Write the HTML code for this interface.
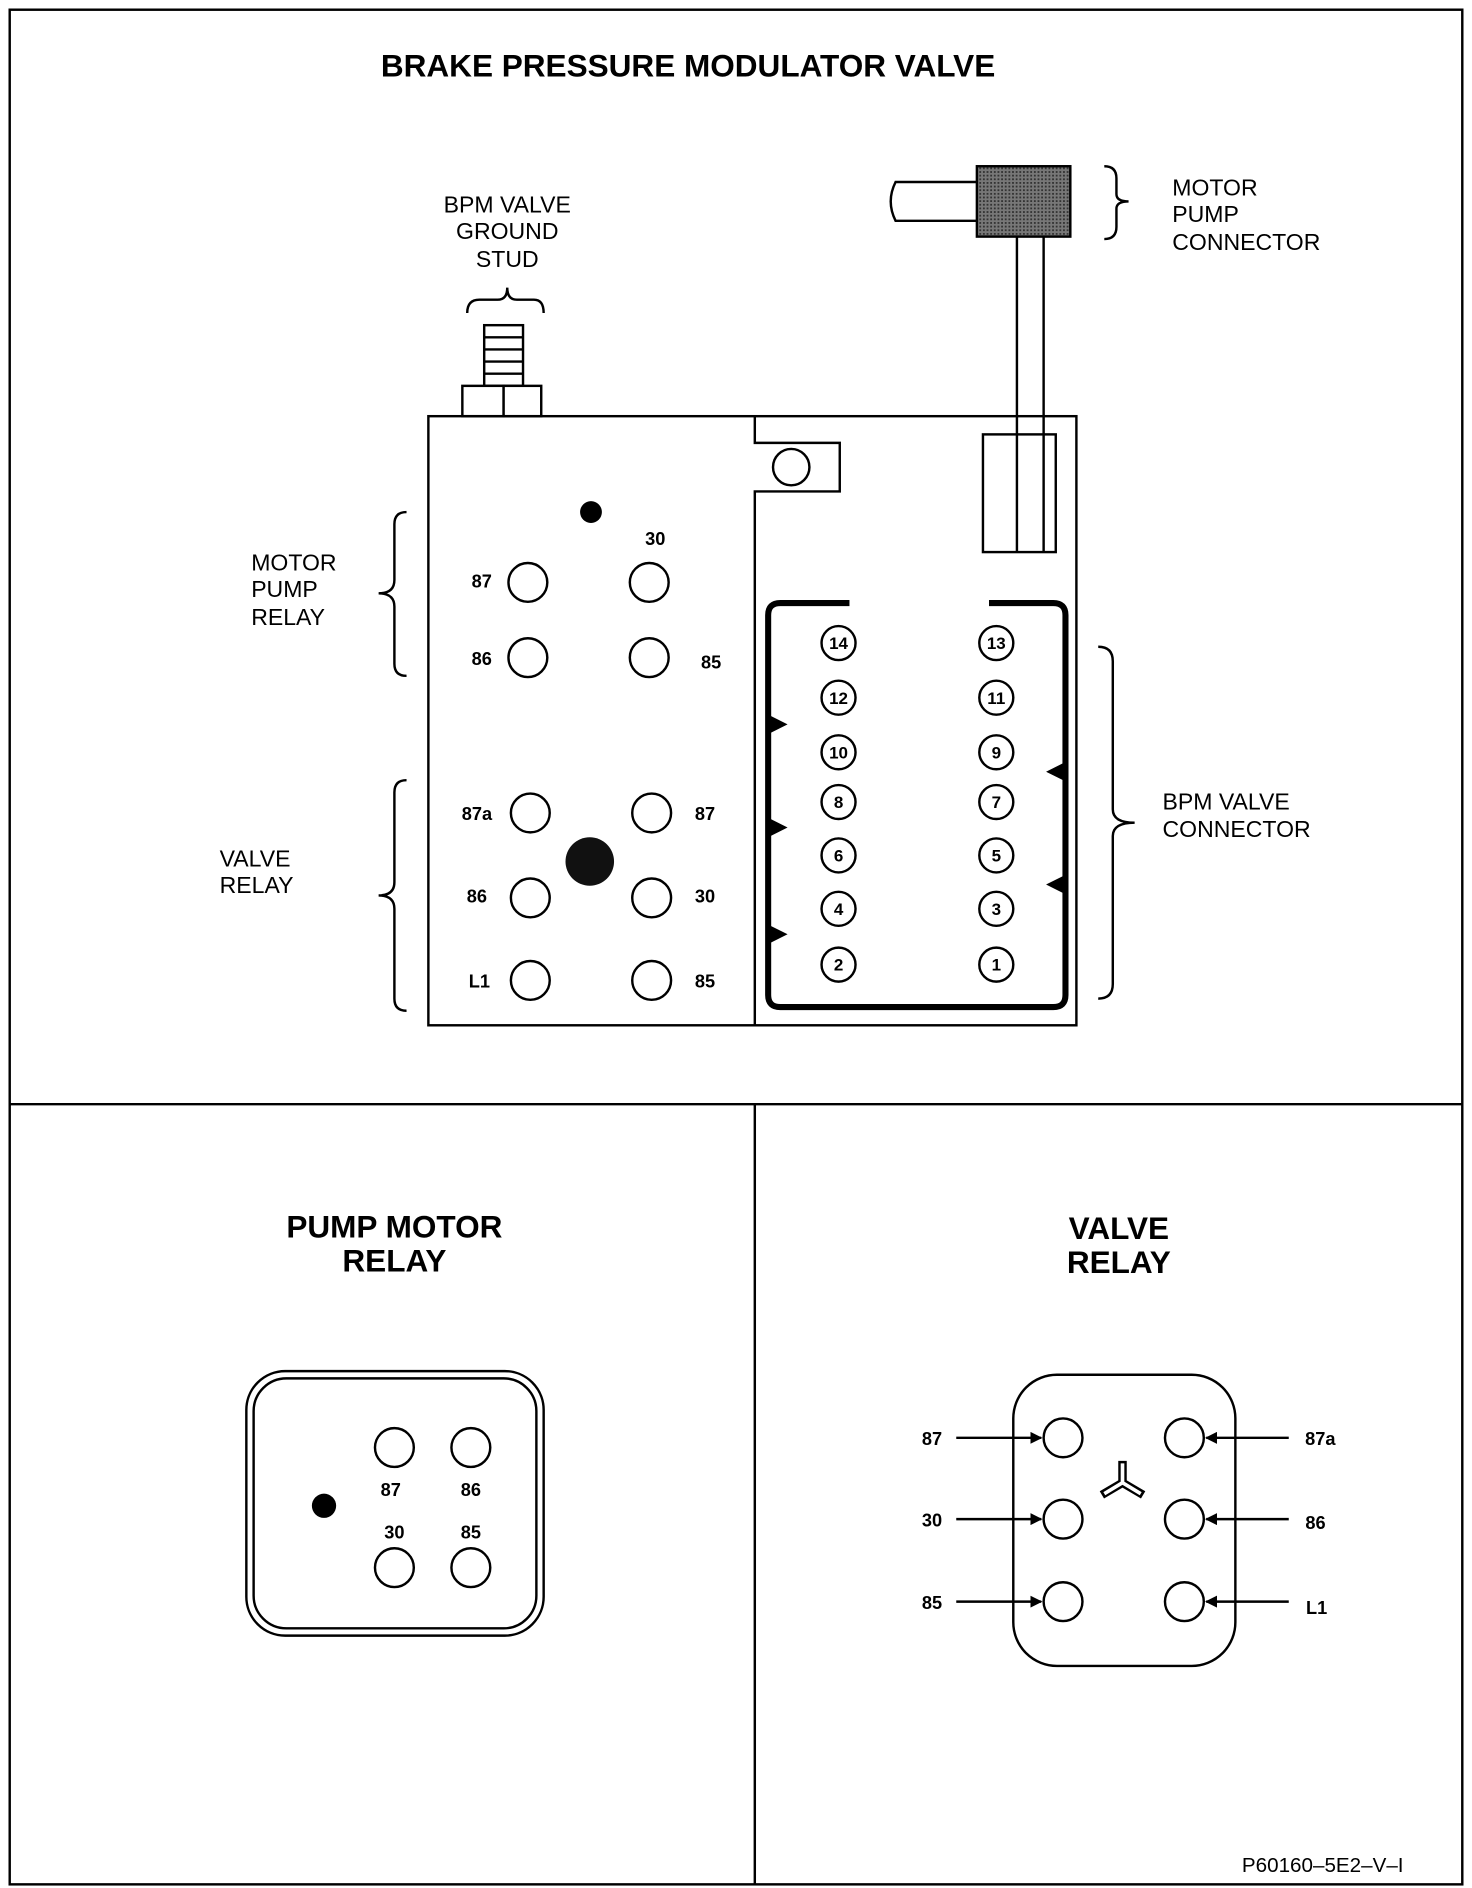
<!DOCTYPE html>
<html><head><meta charset="utf-8"><style>
html,body{margin:0;padding:0;background:#fff}
svg{display:block}
text{font-family:"Liberation Sans",Arial,sans-serif;fill:#000}
.t{font-weight:bold;font-size:26px}
.l{font-size:19px}
.s{font-size:15px;font-weight:bold}
.n{font-size:14px;font-weight:bold}
</style></head><body>
<svg width="1472" height="1888" viewBox="0 0 1213 1556" preserveAspectRatio="none" xmlns="http://www.w3.org/2000/svg">
<defs>
<pattern id="hat" width="3" height="3" patternUnits="userSpaceOnUse"><rect width="3" height="3" fill="#777"/><rect width="1.5" height="1.5" fill="#333"/></pattern>
<marker id="ar" markerWidth="10" markerHeight="10" refX="9" refY="5" orient="auto" markerUnits="userSpaceOnUse"><path d="M0,0 L10,5 L0,10z" fill="#000"/></marker>
</defs>
<g fill="none" stroke="#000" stroke-width="2">
<rect x="8" y="8" width="1197" height="1545"/>
<line x1="8" y1="910" x2="1205" y2="910"/>
<line x1="622" y1="910" x2="622" y2="1553"/>
</g>
<text class="t" x="567" y="63" text-anchor="middle">BRAKE PRESSURE MODULATOR VALVE</text>

<!-- stud -->
<text class="l" x="418" y="175" text-anchor="middle">BPM VALVE</text>
<text class="l" x="418" y="197" text-anchor="middle">GROUND</text>
<text class="l" x="418" y="220" text-anchor="middle">STUD</text>
<path d="M385,258 Q385,247 395,247 L410,247 Q418,247 418,237 Q418,247 426,247 L440,247 Q448,247 448,258" fill="none" stroke="#000" stroke-width="2"/>
<g fill="#fff" stroke="#000" stroke-width="2">
<rect x="399" y="268" width="32" height="50"/>
<rect x="381" y="318" width="34" height="25"/><rect x="415" y="318" width="31" height="25"/>
</g>
<g stroke="#000" stroke-width="2"><line x1="399" y1="278" x2="431" y2="278"/><line x1="399" y1="288" x2="431" y2="288"/><line x1="399" y1="298" x2="431" y2="298"/><line x1="399" y1="308" x2="431" y2="308"/></g>

<!-- motor pump connector -->
<path d="M805,150 L738,150 Q730,166 738,182 L805,182" fill="#fff" stroke="#000" stroke-width="2"/>
<rect x="805" y="137" width="77" height="58" fill="url(#hat)" stroke="#000" stroke-width="2"/>
<path d="M910,137 Q920,137 920,147 L920,160 Q920,166 930,166 Q920,166 920,172 L920,187 Q920,197 910,197" fill="none" stroke="#000" stroke-width="2"/>
<text class="l" x="966" y="161">MOTOR</text>
<text class="l" x="966" y="183">PUMP</text>
<text class="l" x="966" y="206">CONNECTOR</text>

<!-- body -->
<rect x="353" y="343" width="534" height="502" fill="none" stroke="#000" stroke-width="2"/>
<path d="M622,343 L622,365 L692,365 L692,405 L622,405 L622,845" fill="none" stroke="#000" stroke-width="2"/>
<circle cx="652" cy="385" r="15" fill="none" stroke="#000" stroke-width="2"/>
<rect x="810" y="358" width="60" height="97" fill="#fff" stroke="#000" stroke-width="2"/>
<g stroke="#000" stroke-width="2"><line x1="838" y1="195" x2="838" y2="455"/><line x1="860" y1="195" x2="860" y2="455"/></g>

<!-- motor pump relay (top) -->
<circle cx="487" cy="422" r="9" fill="#000"/>
<g fill="none" stroke="#000" stroke-width="2">
<circle cx="435" cy="480" r="16"/><circle cx="535" cy="480" r="16"/>
<circle cx="435" cy="542" r="16"/><circle cx="535" cy="542" r="16"/>
<circle cx="437" cy="670" r="16"/><circle cx="537" cy="670" r="16"/>
<circle cx="437" cy="740" r="16"/><circle cx="537" cy="740" r="16"/>
<circle cx="437" cy="808" r="16"/><circle cx="537" cy="808" r="16"/>
</g>
<circle cx="486" cy="710" r="20" fill="#111"/>
<text class="s" x="397" y="484" text-anchor="middle">87</text>
<text class="s" x="540" y="449" text-anchor="middle">30</text>
<text class="s" x="397" y="548" text-anchor="middle">86</text>
<text class="s" x="586" y="551" text-anchor="middle">85</text>
<text class="s" x="393" y="676" text-anchor="middle">87a</text>
<text class="s" x="581" y="676" text-anchor="middle">87</text>
<text class="s" x="393" y="744" text-anchor="middle">86</text>
<text class="s" x="581" y="744" text-anchor="middle">30</text>
<text class="s" x="395" y="814" text-anchor="middle">L1</text>
<text class="s" x="581" y="814" text-anchor="middle">85</text>
<path d="M335,422 Q325,422 325,432 L325,478 Q325,489 312,489 Q325,489 325,500 L325,547 Q325,557 335,557" fill="none" stroke="#000" stroke-width="2"/>
<path d="M335,643 Q325,643 325,653 L325,727 Q325,738 312,738 Q325,738 325,749 L325,823 Q325,833 335,833" fill="none" stroke="#000" stroke-width="2"/>
<text class="l" x="207" y="470">MOTOR</text>
<text class="l" x="207" y="492">PUMP</text>
<text class="l" x="207" y="515">RELAY</text>
<text class="l" x="181" y="714">VALVE</text>
<text class="l" x="181" y="736">RELAY</text>

<!-- BPM connector -->
<path d="M700,497 L643,497 Q633,497 633,507 L633,820 Q633,830 643,830 L868,830 Q878,830 878,820 L878,507 Q878,497 868,497 L815,497" fill="none" stroke="#000" stroke-width="5"/>
<g fill="#000">
<path d="M633,589 L649,597 L633,605z"/><path d="M633,674 L649,682 L633,690z"/><path d="M633,762 L649,770 L633,778z"/>
<path d="M878,628 L862,636 L878,644z"/><path d="M878,721 L862,729 L878,737z"/>
</g>
<g fill="none" stroke="#000" stroke-width="2">
<circle cx="691" cy="530" r="14"/><circle cx="691" cy="575" r="14"/><circle cx="691" cy="620" r="14"/><circle cx="691" cy="661" r="14"/><circle cx="691" cy="705" r="14"/><circle cx="691" cy="749" r="14"/><circle cx="691" cy="795" r="14"/>
<circle cx="821" cy="530" r="14"/><circle cx="821" cy="575" r="14"/><circle cx="821" cy="620" r="14"/><circle cx="821" cy="661" r="14"/><circle cx="821" cy="705" r="14"/><circle cx="821" cy="749" r="14"/><circle cx="821" cy="795" r="14"/>
</g>
<g class="n" text-anchor="middle">
<text class="n" x="691" y="535" text-anchor="middle">14</text><text class="n" x="691" y="580" text-anchor="middle">12</text><text class="n" x="691" y="625" text-anchor="middle">10</text><text class="n" x="691" y="666" text-anchor="middle">8</text><text class="n" x="691" y="710" text-anchor="middle">6</text><text class="n" x="691" y="754" text-anchor="middle">4</text><text class="n" x="691" y="800" text-anchor="middle">2</text>
<text class="n" x="821" y="535" text-anchor="middle">13</text><text class="n" x="821" y="580" text-anchor="middle">11</text><text class="n" x="821" y="625" text-anchor="middle">9</text><text class="n" x="821" y="666" text-anchor="middle">7</text><text class="n" x="821" y="710" text-anchor="middle">5</text><text class="n" x="821" y="754" text-anchor="middle">3</text><text class="n" x="821" y="800" text-anchor="middle">1</text>
</g>
<path d="M905,533 Q917,533 917,545 L917,667 Q917,678 935,678 Q917,678 917,689 L917,811 Q917,823 905,823" fill="none" stroke="#000" stroke-width="2"/>
<text class="l" x="958" y="667">BPM VALVE</text>
<text class="l" x="958" y="690">CONNECTOR</text>

<!-- pump motor relay bottom -->
<text class="t" x="325" y="1020" text-anchor="middle">PUMP MOTOR</text>
<text class="t" x="325" y="1048" text-anchor="middle">RELAY</text>
<rect x="203" y="1130" width="245" height="218" rx="32" fill="none" stroke="#000" stroke-width="2"/>
<rect x="209" y="1136" width="233" height="206" rx="27" fill="none" stroke="#000" stroke-width="2"/>
<g fill="none" stroke="#000" stroke-width="2">
<circle cx="325" cy="1193" r="16"/><circle cx="388" cy="1193" r="16"/><circle cx="325" cy="1292" r="16"/><circle cx="388" cy="1292" r="16"/>
</g>
<circle cx="267" cy="1241" r="10" fill="#000"/>
<text class="s" x="322" y="1233" text-anchor="middle">87</text>
<text class="s" x="388" y="1233" text-anchor="middle">86</text>
<text class="s" x="325" y="1268" text-anchor="middle">30</text>
<text class="s" x="388" y="1268" text-anchor="middle">85</text>

<!-- valve relay bottom -->
<text class="t" x="922" y="1021" text-anchor="middle">VALVE</text>
<text class="t" x="922" y="1049" text-anchor="middle">RELAY</text>
<rect x="835" y="1133" width="183" height="240" rx="36" fill="none" stroke="#000" stroke-width="2"/>
<g fill="none" stroke="#000" stroke-width="2">
<circle cx="876" cy="1185" r="16"/><circle cx="976" cy="1185" r="16"/>
<circle cx="876" cy="1252" r="16"/><circle cx="976" cy="1252" r="16"/>
<circle cx="876" cy="1320" r="16"/><circle cx="976" cy="1320" r="16"/>
<line x1="788" y1="1185" x2="858" y2="1185" marker-end="url(#ar)"/>
<line x1="788" y1="1252" x2="858" y2="1252" marker-end="url(#ar)"/>
<line x1="788" y1="1320" x2="858" y2="1320" marker-end="url(#ar)"/>
<line x1="1062" y1="1185" x2="994" y2="1185" marker-end="url(#ar)"/>
<line x1="1062" y1="1252" x2="994" y2="1252" marker-end="url(#ar)"/>
<line x1="1062" y1="1320" x2="994" y2="1320" marker-end="url(#ar)"/>
</g>
<g stroke="#000" stroke-width="2" fill="#fff">
<path d="M925,1222 L925,1204 M925,1222 L908,1232 M925,1222 L942,1232" stroke-width="7"/>
<path d="M925,1222 L925,1206 M925,1222 L910,1231 M925,1222 L940,1231" stroke="#fff" stroke-width="3"/>
</g>
<text class="s" x="768" y="1191" text-anchor="middle">87</text>
<text class="s" x="768" y="1258" text-anchor="middle">30</text>
<text class="s" x="768" y="1326" text-anchor="middle">85</text>
<text class="s" x="1088" y="1191" text-anchor="middle">87a</text>
<text class="s" x="1084" y="1260" text-anchor="middle">86</text>
<text class="s" x="1085" y="1330" text-anchor="middle">L1</text>

<text x="1090" y="1543" text-anchor="middle" style="font-size:17px">P60160–5E2–V–I</text>
</svg>
</body></html>
